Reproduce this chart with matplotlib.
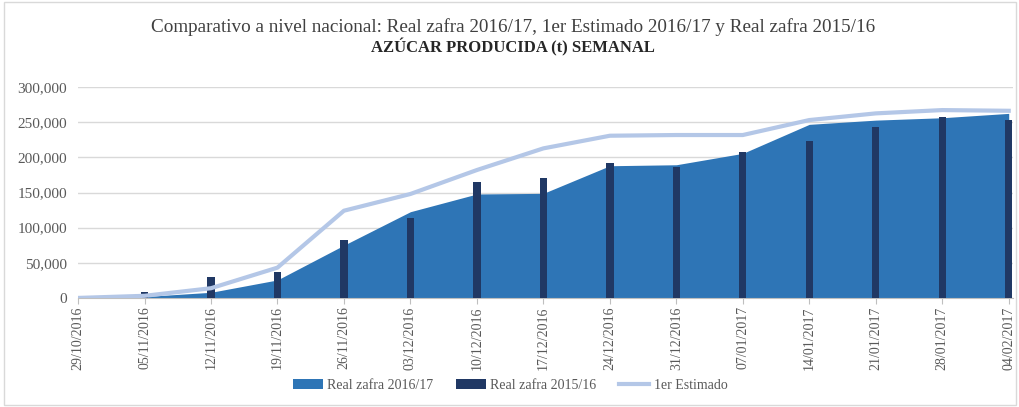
import numpy as np
import matplotlib.pyplot as plt
from matplotlib.patches import Rectangle

fechas = ["29/10/2016", "05/11/2016", "12/11/2016", "19/11/2016", "26/11/2016",
          "03/12/2016", "10/12/2016", "17/12/2016", "24/12/2016", "31/12/2016",
          "07/01/2017", "14/01/2017", "21/01/2017", "28/01/2017", "04/02/2017"]
real_2016_17 = [0, 2000, 8000, 25600, 75000, 122700, 147900, 148800, 188100,
                189500, 205700, 247000, 253000, 256400, 262600]
real_2015_16 = [0, 9000, 29400, 37400, 82500, 114200, 164500, 171100, 191500,
                186700, 207100, 223700, 243600, 256900, 253100]
estimado = [0, 3000, 13800, 43100, 124100, 147900, 182000, 212800, 230800,
            231800, 231800, 253100, 262600, 267300, 266300]


def main():
    plt.rcParams["font.family"] = ["Liberation Serif", "DejaVu Serif"]
    fig = plt.figure(figsize=(10.2, 4.07), dpi=100)
    ax = fig.add_axes([0.0765, 0.268, 0.917, 0.518])

    x = np.arange(len(fechas))
    h1 = ax.fill_between(x, real_2016_17, color="#2E75B6", lw=0, label="Real zafra 2016/17", zorder=2)
    h2 = ax.bar(x, real_2015_16, width=0.11, color="#203864", label="Real zafra 2015/16", zorder=3)
    h3, = ax.plot(x, estimado, color="#B4C7E7", lw=3, label="1er Estimado", zorder=4)

    ax.set_xlim(0, 14.07)
    ax.set_ylim(0, 300000)
    ax.set_yticks(range(0, 300001, 50000))
    ax.set_yticklabels([f"{v:,}" for v in range(0, 300001, 50000)], fontsize=11, color="#595959")
    ax.set_xticks(x)
    ax.set_xticklabels(fechas, rotation=90, fontsize=10, color="#595959")
    ax.tick_params(axis="y", length=0, pad=8)
    ax.tick_params(axis="x", length=4, color="#BFBFBF", pad=2)
    ax.grid(axis="y", color="#D9D9D9", lw=1, zorder=0)
    for s in ["top", "right", "left"]:
        ax.spines[s].set_visible(False)
    ax.spines["bottom"].set_color("#BFBFBF")

    fig.text(0.503, 0.934, "Comparativo a nivel nacional: Real zafra 2016/17, 1er Estimado 2016/17 y Real zafra 2015/16",
             ha="center", va="center", fontsize=13.8, color="#404040")
    fig.text(0.503, 0.884, "AZÚCAR PRODUCIDA (t) SEMANAL", ha="center", va="center", fontsize=12,
             fontweight="bold", color="#262626")

    fig.legend([h1, h2, h3], ["Real zafra 2016/17", "Real zafra 2015/16", "1er Estimado"],
               loc="center", bbox_to_anchor=(0.5, 0.053), ncol=3, frameon=False,
               fontsize=10, labelcolor="#595959", handlelength=2.2, handletextpad=0.3,
               columnspacing=1.6)

    fig.patches.append(Rectangle((0.004, 0.004), 0.992, 0.992, transform=fig.transFigure,
                                 fill=False, edgecolor="#D9D9D9", lw=1))
    fig.savefig("out.png", dpi=100)


if __name__ == "__main__":
    main()
